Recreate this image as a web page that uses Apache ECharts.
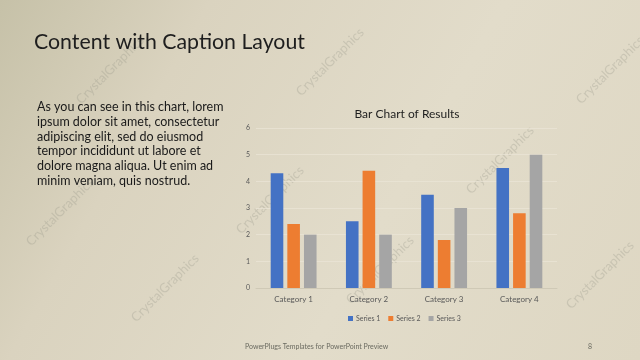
<!DOCTYPE html>
<html>
<head>
<meta charset="utf-8">
<script src="https://cdn.jsdelivr.net/npm/echarts@6/dist/echarts.min.js"></script>
<style>
html,body{margin:0;padding:0;background:#ddd7c5;}
#chart{width:640px;height:360px;}
</style>
</head>
<body>
<div id="chart"></div>
<script>
var categories = ['Category 1', 'Category 2', 'Category 3', 'Category 4'];
var series1 = [4.3, 2.5, 3.5, 4.5];
var series2 = [2.4, 4.4, 1.8, 2.8];
var series3 = [2, 2, 3, 5];
var seriesNames = ['Series 1', 'Series 2', 'Series 3'];
var yTicks = [0, 1, 2, 3, 4, 5, 6];

var captionLines = [
  'As you can see in this chart, lorem',
  'ipsum dolor sit amet, consectetur',
  'adipiscing elit, sed do eiusmod',
  'tempor incididunt ut labore et',
  'dolore magna aliqua. Ut enim ad',
  'minim veniam, quis nostrud.'
];

var FONT = 'Lato, "Open Sans", sans-serif';
var chart = echarts.init(document.getElementById('chart'), null, {renderer: 'canvas'});

var watermarks = [
  [110, 70], [330, 62], [610, 70], [270, 200], [500, 160],
  [380, 270], [60, 212], [165, 288], [600, 275]
];
var wmGraphics = watermarks.map(function (p) {
  return {
    type: 'text', x: p[0], y: p[1], rotation: Math.PI / 4, z: 0,
    style: {
      text: 'CrystalGraphics', font: '13px ' + FONT,
      fill: 'rgba(150,148,135,0.3)', align: 'center', verticalAlign: 'middle'
    }
  };
});

var option = {
  backgroundColor: {
    type: 'linear', x: 0, y: 0, x2: 1, y2: 1,
    colorStops: [
      {offset: 0, color: '#c6c1a8'},
      {offset: 0.25, color: '#dad3bf'},
      {offset: 0.6, color: '#e2dcca'},
      {offset: 1, color: '#ded7c3'}
    ]
  },
  animation: false,
  color: ['#4472C4', '#ED7D31', '#A5A5A5'],
  title: [
    {
      text: 'Content with Caption Layout', left: 29, top: 27,
      textStyle: {fontFamily: FONT, fontSize: 21.3, fontWeight: 'normal', color: '#1e1e1e'}
    },
    {
      text: 'Bar Chart of Results', left: 402, top: 103, textAlign: 'center',
      textStyle: {fontFamily: FONT, fontSize: 12, fontWeight: 'normal', color: '#1e1e1e'}
    }
  ],
  graphic: wmGraphics.concat([
    {
      type: 'text', left: 37, top: 100, z: 10,
      style: {
        text: captionLines.join('\n'), font: '12.5px ' + FONT,
        lineHeight: 14.7, fill: '#1a1a1a'
      }
    },
    {
      type: 'text', left: 245, top: 343, z: 10,
      style: {text: 'PowerPlugs Templates for PowerPoint Preview', font: '7px ' + FONT, fill: '#6a6a60'}
    },
    {
      type: 'text', left: 588, top: 343, z: 10,
      style: {text: '8', font: '7px ' + FONT, fill: '#6a6a60'}
    }
  ]),
  legend: {
    data: seriesNames, left: 343, top: 310,
    itemWidth: 5, itemHeight: 5, itemGap: 8, icon: 'rect',
    textStyle: {fontFamily: FONT, fontSize: 7, color: '#595959', padding: [0, 0, 0, -2]}
  },
  grid: {left: 256, right: 83, top: 128, bottom: 72, containLabel: false},
  xAxis: {
    type: 'category', data: categories,
    axisLine: {show: true, lineStyle: {color: '#cfc9b6'}},
    axisTick: {show: false},
    axisLabel: {fontFamily: FONT, fontSize: 8, color: '#595959', margin: 7}
  },
  yAxis: {
    type: 'value', min: yTicks[0], max: yTicks[yTicks.length - 1], interval: 1,
    axisLine: {show: false}, axisTick: {show: false},
    axisLabel: {fontFamily: FONT, fontSize: 7, color: '#595959', margin: 6},
    splitLine: {show: true, lineStyle: {color: 'rgba(235,230,215,0.7)', width: 1}}
  },
  series: [
    {name: seriesNames[0], type: 'bar', data: series1, barWidth: 12.6, barGap: '32%'},
    {name: seriesNames[1], type: 'bar', data: series2, barWidth: 12.6, barGap: '32%'},
    {name: seriesNames[2], type: 'bar', data: series3, barWidth: 12.6, barGap: '32%'}
  ]
};
chart.setOption(option);
</script>
</body>
</html>
